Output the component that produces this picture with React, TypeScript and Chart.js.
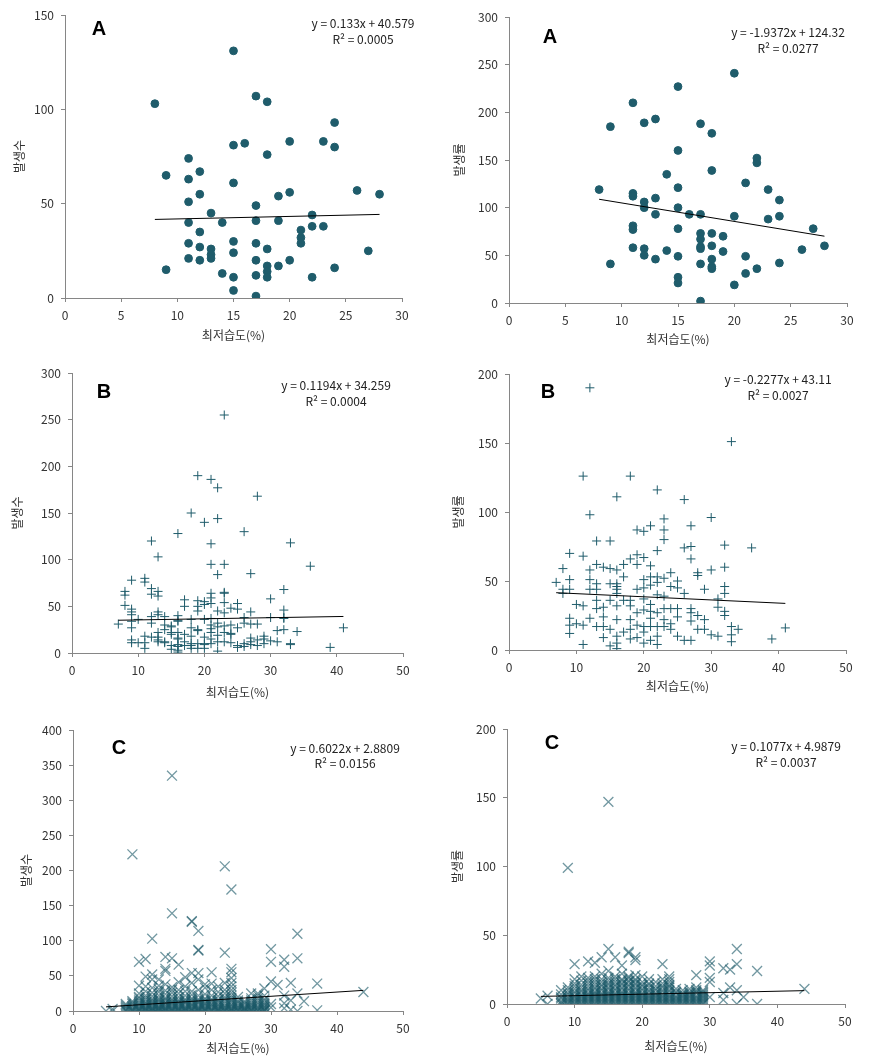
import React, { useEffect, useRef } from "react";
import { Chart, registerables } from "chart.js";

Chart.register(...registerables);

const FONT = '"Noto Sans CJK KR", "Noto Sans", sans-serif';
const X_TITLE = "최저습도(%)";

// ---------- DATA ----------
// Panel A (left) : 발생수
const a1Points: [number, number][] = [
  [8, 103], [9, 65], [9, 15], [11, 74], [11, 63], [11, 51], [11, 40], [11, 29], [11, 21],
  [12, 67], [12, 55], [12, 35], [12, 27], [12, 20], [13, 45], [13, 26], [13, 23], [13, 21],
  [14, 40], [14, 13], [15, 131], [15, 81], [15, 61], [15, 30], [15, 24], [15, 11], [15, 4],
  [16, 82], [17, 107], [17, 49], [17, 41], [17, 29], [17, 20], [17, 12], [17, 1],
  [18, 104], [18, 76], [18, 26], [18, 17], [18, 14], [18, 11], [19, 54], [19, 41], [19, 17],
  [20, 83], [20, 56], [20, 20], [21, 36], [21, 32], [21, 29], [22, 44], [22, 38], [22, 11],
  [23, 83], [23, 38], [24, 93], [24, 80], [24, 16], [26, 57], [27, 25], [28, 55],
];
// Panel A (right) : 발생률
const a2Points: [number, number][] = [
  [8, 119], [9, 185], [9, 41], [11, 210], [11, 115], [11, 112], [11, 81], [11, 77], [11, 58],
  [12, 189], [12, 106], [12, 100], [12, 57], [12, 50], [13, 193], [13, 110], [13, 93], [13, 46],
  [14, 135], [14, 55], [15, 227], [15, 160], [15, 121], [15, 100], [15, 78], [15, 49], [15, 27],
  [15, 21], [16, 93], [17, 188], [17, 93], [17, 73], [17, 67], [17, 59], [17, 57], [17, 41],
  [17, 2], [18, 178], [18, 139], [18, 73], [18, 60], [18, 46], [18, 38], [18, 36], [19, 70],
  [19, 54], [20, 241], [20, 91], [20, 19], [21, 126], [21, 49], [21, 31], [22, 152], [22, 147],
  [22, 36], [23, 119], [23, 88], [24, 108], [24, 91], [24, 42], [26, 56], [27, 78], [28, 60],
];
// Panel B (left) : 발생수, grouped by humidity
const b1Groups: [number, number[]][] = [
  [7, [31]],
  [8, [66, 62, 51]],
  [9, [78, 47, 44, 41, 34, 27, 14, 11]],
  [10, [36, 11]],
  [11, [80, 76, 18, 11, 5]],
  [12, [120, 69, 63, 39, 32, 17]],
  [13, [103, 66, 61, 44, 41, 22, 17, 14, 12]],
  [14, [39, 30, 25, 12, 11]],
  [15, [29, 28, 22, 20, 8, 4]],
  [16, [128, 40, 35, 34, 22, 16, 15, 9, 7, 3, 1]],
  [17, [57, 50, 20, 12, 8]],
  [18, [150, 36, 27, 18, 10, 8, 5]],
  [19, [190, 56, 50, 45, 25, 24, 10, 5]],
  [20, [140, 55, 52, 36, 17, 10, 9, 5]],
  [21, [186, 117, 95, 64, 59, 53, 37, 30, 26, 22, 15, 10]],
  [22, [177, 144, 84, 45, 32, 28, 19, 12, 2]],
  [23, [255, 95, 65, 64, 54, 43, 29, 22, 12]],
  [24, [48, 30, 21, 20, 11]],
  [25, [53, 47, 27, 8, 6]],
  [26, [130, 38, 32, 10, 7]],
  [27, [85, 44, 31, 16, 12, 9]],
  [28, [168, 31, 14, 8]],
  [29, [18, 15, 10]],
  [30, [58, 38, 13]],
  [31, [24, 12]],
  [32, [68, 46, 38, 37, 25]],
  [33, [118, 10, 9]],
  [34, [23]],
  [36, [93]],
  [39, [6]],
  [41, [27]],
];
// Panel B (right) : 발생률
const b2Groups: [number, number[]][] = [
  [7, [49]],
  [8, [59, 44, 41]],
  [9, [70, 51, 44, 23, 18, 12]],
  [10, [33, 19]],
  [11, [126, 68, 32, 18, 4]],
  [12, [190, 98, 58, 51, 44, 23]],
  [13, [79, 62, 48, 44, 36, 30, 17]],
  [14, [60, 31, 24, 17, 9]],
  [15, [79, 59, 48, 36, 15, 3]],
  [16, [111, 58, 48, 46, 44, 41, 32, 22, 10, 5, 1]],
  [17, [62, 53, 36, 13]],
  [18, [126, 66, 36, 32, 22, 15, 8]],
  [19, [87, 69, 62, 44, 27, 18, 9]],
  [20, [86, 67, 51, 45, 37, 29, 17, 13, 5]],
  [21, [90, 61, 53, 47, 33, 28, 23, 17, 7]],
  [22, [116, 72, 53, 49, 40, 27, 17, 10, 4]],
  [23, [95, 87, 80, 52, 39, 30, 22, 17]],
  [24, [56, 46, 30, 19, 15]],
  [25, [50, 45, 30, 24, 10]],
  [26, [109, 74, 41, 7]],
  [27, [90, 75, 66, 30, 27, 21, 7]],
  [28, [56, 54, 25, 15]],
  [29, [44, 22, 15]],
  [30, [96, 58, 11]],
  [31, [37, 31, 10]],
  [32, [76, 60, 46, 41, 28, 25]],
  [33, [151, 17, 11, 6]],
  [34, [15]],
  [36, [74]],
  [39, [8]],
  [41, [16]],
];
// Panel C (left) : 발생수
const c1Groups: [number, number[]][] = [
  [5, [0]],
  [6, [0, 3]],
  [8, [0, 1, 2, 4, 6, 8, 10]],
  [9, [0, 1, 2, 3, 5, 7, 10, 12, 14, 223]],
  [10, [0, 1, 2, 3, 4, 6, 8, 10, 12, 15, 18, 20, 25, 36, 70]],
  [11, [0, 1, 2, 3, 4, 5, 7, 9, 11, 13, 16, 19, 22, 28, 35, 49, 74]],
  [12, [0, 1, 2, 3, 4, 5, 7, 9, 11, 13, 15, 17, 21, 26, 33, 45, 52, 103]],
  [13, [0, 1, 2, 3, 4, 5, 6, 8, 10, 12, 14, 16, 18, 22, 27, 31, 36, 45]],
  [14, [0, 1, 2, 3, 4, 5, 7, 9, 11, 12, 15, 17, 19, 24, 29, 38, 57, 60, 77]],
  [15, [0, 1, 2, 3, 4, 6, 8, 10, 12, 13, 15, 17, 21, 26, 30, 34, 75, 139, 335]],
  [16, [0, 1, 2, 3, 4, 5, 7, 9, 11, 12, 14, 16, 20, 25, 30, 41, 66]],
  [17, [0, 1, 2, 3, 4, 5, 7, 10, 12, 13, 15, 17, 22, 28, 35, 48]],
  [18, [0, 1, 2, 3, 4, 6, 8, 9, 11, 14, 16, 18, 23, 28, 40, 54, 127, 128]],
  [19, [0, 1, 2, 3, 4, 5, 7, 10, 12, 13, 15, 17, 22, 30, 45, 54, 86, 87, 114]],
  [20, [0, 1, 2, 3, 4, 6, 8, 10, 11, 14, 16, 18, 24, 33, 38]],
  [21, [0, 1, 2, 3, 5, 7, 9, 10, 13, 15, 17, 22, 30, 39, 55]],
  [22, [0, 1, 2, 3, 4, 6, 8, 9, 12, 14, 16, 21, 27, 35]],
  [23, [0, 1, 2, 3, 5, 6, 8, 11, 14, 17, 20, 25, 30, 40, 83, 206]],
  [24, [0, 1, 2, 3, 4, 6, 8, 9, 12, 14, 16, 19, 22, 26, 30, 35, 40, 47, 55, 60, 173]],
  [25, [0, 1, 2, 3, 5, 6, 8, 11, 13, 15, 20]],
  [26, [0, 1, 2, 3, 4, 5, 7, 10, 12, 14]],
  [27, [0, 1, 2, 3, 5, 6, 8, 10, 12, 15, 18, 25]],
  [28, [0, 1, 2, 4, 5, 7, 10, 12, 15, 18, 22, 25]],
  [29, [0, 1, 2, 3, 5, 6, 8, 10, 12, 15, 17, 22, 32]],
  [30, [5, 10, 42, 70, 88]],
  [31, [37]],
  [32, [4, 11, 22, 63, 73]],
  [33, [2, 15, 40]],
  [34, [0, 25, 75, 110]],
  [35, [14]],
  [37, [1, 39]],
  [44, [27]],
];
// Panel C (right) : 발생률
const c2Groups: [number, number[]][] = [
  [5, [4]],
  [6, [0, 6]],
  [8, [0, 1, 2, 4, 5, 7, 10]],
  [9, [0, 1, 2, 3, 4, 5, 7, 8, 10, 12, 99]],
  [10, [0, 1, 2, 3, 4, 5, 6, 8, 9, 11, 13, 15, 18, 29]],
  [11, [0, 1, 2, 3, 4, 5, 6, 7, 9, 10, 12, 14, 17, 20]],
  [12, [0, 1, 2, 3, 4, 5, 6, 7, 8, 10, 11, 13, 15, 17, 19, 31]],
  [13, [0, 1, 2, 3, 4, 5, 6, 7, 8, 9, 11, 12, 14, 16, 18, 20, 30]],
  [14, [0, 1, 2, 3, 4, 5, 6, 7, 8, 10, 11, 13, 14, 16, 18, 22, 34]],
  [15, [0, 1, 2, 3, 4, 5, 6, 7, 8, 9, 11, 12, 14, 15, 17, 19, 24, 40, 147]],
  [16, [0, 1, 2, 3, 4, 5, 6, 7, 8, 10, 11, 13, 14, 16, 18, 20, 34]],
  [17, [0, 1, 2, 3, 4, 5, 6, 7, 8, 9, 11, 12, 14, 15, 17, 18, 22, 28]],
  [18, [0, 1, 2, 3, 4, 5, 6, 7, 8, 10, 11, 13, 14, 16, 17, 19, 20, 37, 38]],
  [19, [0, 1, 2, 3, 4, 5, 6, 7, 8, 9, 11, 12, 14, 15, 17, 18, 21, 32, 34]],
  [20, [0, 1, 2, 3, 4, 5, 6, 7, 8, 10, 11, 13, 14, 16, 20]],
  [21, [0, 1, 2, 3, 4, 5, 6, 7, 9, 10, 12, 14, 15, 18]],
  [22, [0, 1, 2, 3, 4, 5, 6, 7, 8, 10, 11, 13, 16]],
  [23, [0, 1, 2, 3, 4, 5, 6, 7, 9, 10, 12, 13, 15, 18, 29]],
  [24, [0, 1, 2, 3, 4, 5, 6, 7, 9, 10, 12, 13, 14, 16, 18, 20]],
  [25, [0, 1, 2, 3, 4, 5, 6, 8, 9, 11]],
  [26, [0, 1, 2, 3, 4, 5, 6, 7, 8, 10]],
  [27, [0, 1, 2, 3, 4, 5, 6, 7, 8, 9, 11]],
  [28, [0, 1, 2, 3, 4, 5, 6, 8, 9, 10, 12, 21]],
  [29, [0, 1, 2, 3, 4, 5, 6, 7, 8, 9, 10]],
  [30, [5, 16, 19, 28, 31]],
  [32, [3, 8, 26]],
  [33, [12, 25]],
  [34, [0, 10, 29, 40]],
  [35, [5]],
  [37, [0, 24]],
  [44, [11]],
];

const fromGroups = (g: [number, number[]][]): [number, number][] =>
  g.flatMap(([x, ys]) => ys.map((y) => [x, y] as [number, number]));

// Regression equations (as printed)
const trendA1 = { slope: 0.133, intercept: 40.579, eq: "y = 0.133x + 40.579", r2: "R² = 0.0005" };
const trendA2 = { slope: -1.9372, intercept: 124.32, eq: "y = -1.9372x + 124.32", r2: "R² = 0.0277" };
const trendB1 = { slope: 0.1194, intercept: 34.259, eq: "y = 0.1194x + 34.259", r2: "R² = 0.0004" };
const trendB2 = { slope: -0.2277, intercept: 43.11, eq: "y = -0.2277x + 43.11", r2: "R² = 0.0027" };
const trendC1 = { slope: 0.6022, intercept: 2.8809, eq: "y = 0.6022x + 2.8809", r2: "R² = 0.0156" };
const trendC2 = { slope: 0.1077, intercept: 4.9879, eq: "y = 0.1077x + 4.9879", r2: "R² = 0.0037" };

// ---------- LAYOUT / STYLE ----------
type Panel = {
  key: string;
  points: [number, number][];
  trend: { slope: number; intercept: number; eq: string; r2: string };
  letter: string;
  yTitle: string;
  xMax: number; xStep: number; yMax: number; yStep: number;
  marker: "circle" | "cross" | "crossRot";
  left: number; top: number; w: number; h: number;
  padTop: number; padRight: number; yW: number; xH: number;
  xTitleB: number; yTitleT: number;
  letterPos: [number, number]; eqPos: [number, number]; r2Pos: [number, number];
};

const panels: Panel[] = [
  { key: "a1", points: a1Points, trend: trendA1, letter: "A", yTitle: "발생수", xMax: 30, xStep: 5, yMax: 150, yStep: 50, marker: "circle",
    left: 0, top: 0, w: 440, h: 350, padTop: 15, padRight: 38, yW: 65, xH: 52, xTitleB: 7, yTitleT: 13,
    letterPos: [99, 29], eqPos: [363, 23], r2Pos: [363, 39] },
  { key: "a2", points: a2Points, trend: trendA2, letter: "A", yTitle: "발생률", xMax: 30, xStep: 5, yMax: 300, yStep: 50, marker: "circle",
    left: 440, top: 0, w: 439, h: 355, padTop: 17, padRight: 32, yW: 69, xH: 52, xTitleB: 8, yTitleT: 13,
    letterPos: [550, 37], eqPos: [788, 32], r2Pos: [788, 48] },
  { key: "b1", points: fromGroups(b1Groups), trend: trendB1, letter: "B", yTitle: "발생수", xMax: 50, xStep: 10, yMax: 300, yStep: 50, marker: "cross",
    left: 0, top: 355, w: 440, h: 350, padTop: 18, padRight: 37, yW: 72, xH: 52, xTitleB: 5, yTitleT: 11,
    letterPos: [104, 392], eqPos: [336, 385], r2Pos: [336, 401] },
  { key: "b2", points: fromGroups(b2Groups), trend: trendB2, letter: "B", yTitle: "발생률", xMax: 50, xStep: 10, yMax: 200, yStep: 50, marker: "cross",
    left: 440, top: 355, w: 439, h: 350, padTop: 19, padRight: 33, yW: 69, xH: 55, xTitleB: 11, yTitleT: 12,
    letterPos: [548, 392], eqPos: [778, 379], r2Pos: [778, 395] },
  { key: "c1", points: fromGroups(c1Groups), trend: trendC1, letter: "C", yTitle: "발생수", xMax: 50, xStep: 10, yMax: 400, yStep: 50, marker: "crossRot",
    left: 0, top: 705, w: 440, h: 357, padTop: 25, padRight: 37, yW: 73, xH: 51, xTitleB: 6, yTitleT: 20,
    letterPos: [119, 748], eqPos: [345, 748], r2Pos: [345, 763] },
  { key: "c2", points: fromGroups(c2Groups), trend: trendC2, letter: "C", yTitle: "발생률", xMax: 50, xStep: 10, yMax: 200, yStep: 50, marker: "crossRot",
    left: 440, top: 705, w: 439, h: 357, padTop: 24, padRight: 34, yW: 67, xH: 58, xTitleB: 8, yTitleT: 11,
    letterPos: [552, 743], eqPos: [786, 746], r2Pos: [786, 762] },
];

const MARK = "#1F5C6B";
const MARK_X = "rgba(28, 88, 104, 0.62)";
const AXIS = "#868686";
const TEXT = "#333333";

function ScatterPanel({ p }: { p: Panel }) {
  const ref = useRef<HTMLCanvasElement | null>(null);
  useEffect(() => {
    if (!ref.current) return;
    const pts = p.points.map(([x, y]) => ({ x, y }));
    const xs = pts.map((d) => d.x);
    const x0 = Math.min(...xs);
    const x1 = Math.max(...xs);
    const trendPts = [
      { x: x0, y: p.trend.slope * x0 + p.trend.intercept },
      { x: x1, y: p.trend.slope * x1 + p.trend.intercept },
    ];
    const annot = {
      id: "annot" + p.key,
      afterDraw(chart: any) {
        const ctx = chart.ctx as CanvasRenderingContext2D;
        ctx.save();
        ctx.textAlign = "center";
        ctx.textBaseline = "middle";
        ctx.fillStyle = "#000";
        ctx.font = `bold 20px "Liberation Sans", Arial, sans-serif`;
        ctx.fillText(p.letter, p.letterPos[0] - p.left, p.letterPos[1] - p.top);
        ctx.font = `12px ${FONT}`;
        ctx.fillStyle = "#222";
        ctx.fillText(p.trend.eq, p.eqPos[0] - p.left, p.eqPos[1] - p.top);
        ctx.fillText(p.trend.r2, p.r2Pos[0] - p.left, p.r2Pos[1] - p.top);
        ctx.restore();
      },
    };
    const isCircle = p.marker === "circle";
    const chart = new Chart(ref.current, {
      type: "scatter",
      data: {
        datasets: [
          {
            data: trendPts,
            showLine: true,
            pointRadius: 0,
            borderColor: "#000",
            borderWidth: 1,
            order: 0,
          } as any,
          {
            data: pts,
            pointStyle: p.marker,
            pointRadius: isCircle ? 3.9 : p.marker === "cross" ? 4.5 : 7,
            backgroundColor: MARK,
            borderColor: isCircle ? MARK : p.marker === "cross" ? MARK : MARK_X,
            borderWidth: p.marker === "crossRot" ? 1.3 : 1,
            order: 1,
          } as any,
        ],
      },
      options: {
        animation: false,
        responsive: false,
        events: [],
        layout: { padding: { left: 0, top: p.padTop, right: p.padRight, bottom: 0 } },
        plugins: { legend: { display: false }, tooltip: { enabled: false } },
        scales: {
          x: {
            type: "linear",
            min: 0,
            max: p.xMax,
            ticks: { stepSize: p.xStep, color: TEXT, padding: 6, font: { family: FONT, size: 12 } },
            grid: { drawOnChartArea: false, drawTicks: true, tickLength: 4, color: AXIS },
            border: { display: true, color: AXIS },
            title: {
              display: true,
              text: X_TITLE,
              color: TEXT,
              font: { family: FONT, size: 12 },
              padding: { top: 0, bottom: p.xTitleB },
            },
            afterFit: (s: any) => { s.height = p.xH; },
          },
          y: {
            type: "linear",
            min: 0,
            max: p.yMax,
            ticks: { stepSize: p.yStep, color: TEXT, padding: 7, font: { family: FONT, size: 12 } },
            grid: { drawOnChartArea: false, drawTicks: true, tickLength: 4, color: AXIS },
            border: { display: true, color: AXIS },
            title: {
              display: true,
              text: p.yTitle,
              color: TEXT,
              font: { family: FONT, size: 12 },
              padding: { top: p.yTitleT - 1, bottom: 0 },
            },
            afterFit: (s: any) => { s.width = p.yW; },
          },
        },
      } as any,
      plugins: [annot],
    });
    return () => chart.destroy();
  }, [p]);
  return (
    <canvas
      ref={ref}
      width={p.w}
      height={p.h}
      style={{ position: "absolute", left: p.left, top: p.top, width: p.w, height: p.h }}
    />
  );
}

export default function App() {
  return (
    <div style={{ position: "absolute", left: 0, top: 0, width: 879, height: 1062, background: "#fff" }}>
      {panels.map((p) => (
        <ScatterPanel key={p.key} p={p} />
      ))}
    </div>
  );
}
